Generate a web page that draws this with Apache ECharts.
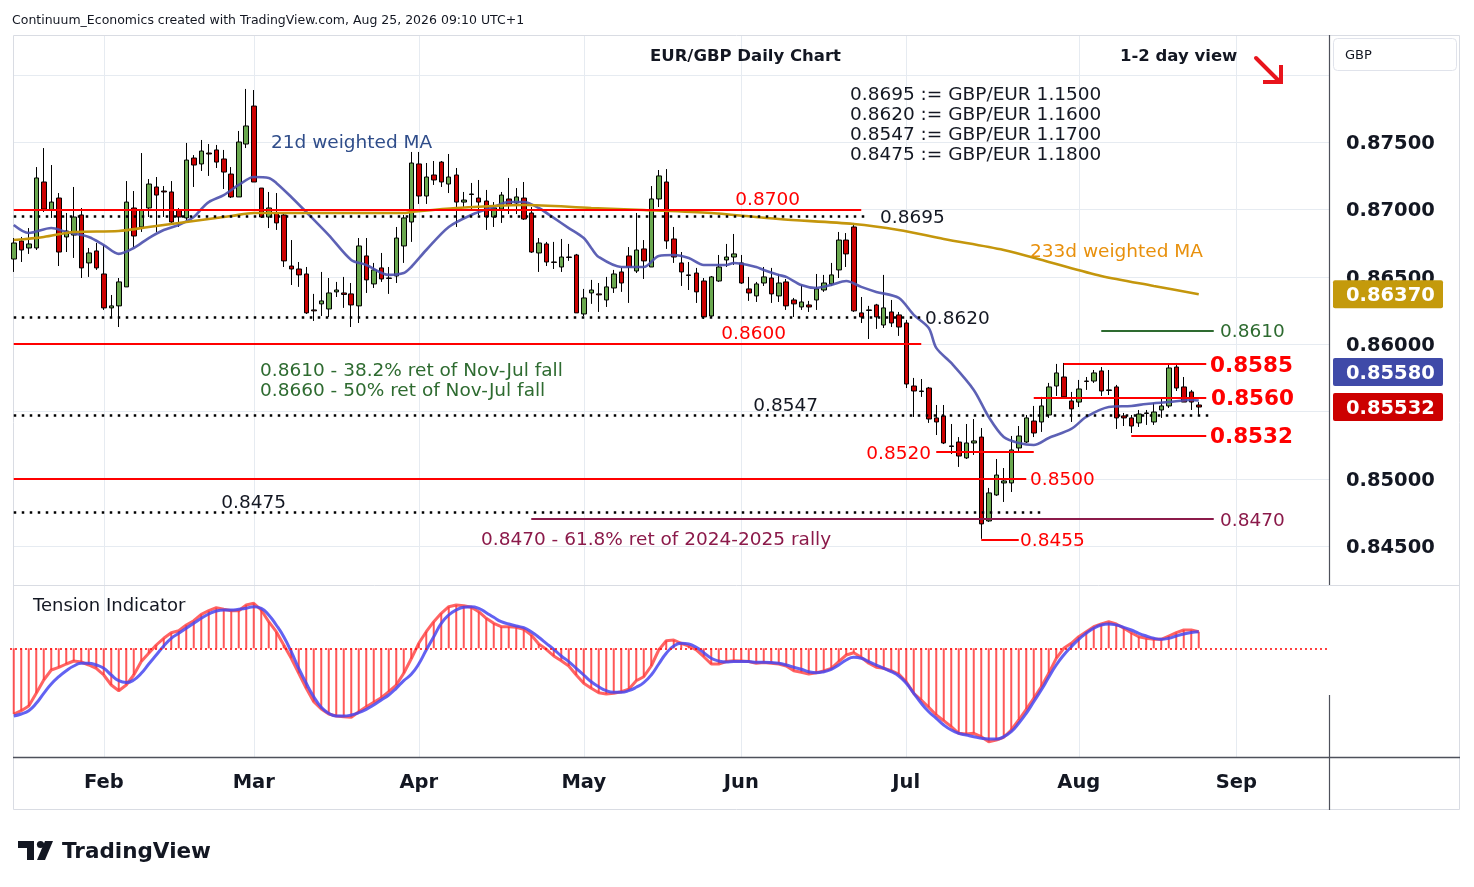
<!DOCTYPE html>
<html><head><meta charset="utf-8">
<script src="https://cdn.jsdelivr.net/npm/echarts@6/dist/echarts.min.js"></script>
<style>html,body{margin:0;padding:0;background:#fff}#c{width:1474px;height:887px}</style>
</head><body><div id="c"></div>
<script>
// ---------- DATA ----------
const openP = [0.86631,0.86765,0.86713,0.86713,0.87203,0.86995,0.87084,0.86795,0.86809,0.86958,
0.86602,0.86691,0.86520,0.86268,0.86283,0.86424,0.87010,0.86869,0.87010,0.87166,
0.87136,0.87129,0.86995,0.86936,0.87381,0.87337,0.87418,0.87441,0.87374,0.87262,
0.87092,0.87485,0.87767,0.87158,0.86943,0.86973,0.86958,0.86579,0.86557,0.86520,
0.86253,0.86298,0.86260,0.86387,0.86379,0.86372,0.86283,0.86654,0.86446,0.86565,
0.86490,0.86505,0.86728,0.86906,0.87337,0.87099,0.87255,0.87351,0.87188,0.87255,
0.87054,0.87114,0.87084,0.87062,0.86943,0.87002,0.87077,0.87047,0.87084,0.86973,
0.86676,0.86743,0.86609,0.86572,0.86646,0.86661,0.86223,0.86379,0.86372,0.86327,
0.86416,0.86535,0.86654,0.86542,0.86706,0.86572,0.87077,0.87203,0.86780,0.86602,
0.86513,0.86527,0.86468,0.86208,0.86468,0.86624,0.86646,0.86602,0.86409,0.86357,
0.86453,0.86490,0.86357,0.86461,0.86327,0.86275,0.86290,0.86327,0.86401,0.86446,
0.86550,0.86772,0.86869,0.86231,0.86253,0.86290,0.86141,0.86238,0.86216,0.86156,
0.85688,0.85651,0.85673,0.85451,0.85466,0.85243,0.85272,0.85154,0.85265,0.85309,
0.84686,0.84879,0.84968,0.84968,0.85228,0.85272,0.85428,0.85421,0.85473,0.85688,
0.85755,0.85577,0.85569,0.85725,0.85725,0.85800,0.85659,0.85681,0.85466,0.85451,
0.85414,0.85488,0.85421,0.85510,0.85540,0.85829,0.85681,0.85644,0.85547];
const closeP = [0.86750,0.86698,0.86743,0.87233,0.87002,0.87054,0.86683,0.86839,0.86943,0.86565,
0.86676,0.86565,0.86268,0.86283,0.86461,0.87054,0.86802,0.86995,0.87188,0.87106,
0.87129,0.86906,0.86943,0.87366,0.87329,0.87433,0.87411,0.87351,0.87277,0.87092,
0.87500,0.87619,0.87203,0.86943,0.87010,0.86899,0.86617,0.86557,0.86513,0.86231,
0.86246,0.86320,0.86379,0.86401,0.86368,0.86290,0.86728,0.86476,0.86550,0.86483,
0.86487,0.86787,0.86936,0.87344,0.87099,0.87240,0.87218,0.87203,0.87240,0.87054,
0.87069,0.87110,0.87054,0.86943,0.87010,0.87106,0.87032,0.87092,0.86928,0.86683,
0.86750,0.86609,0.86606,0.86646,0.86643,0.86231,0.86342,0.86401,0.86365,0.86424,
0.86520,0.86453,0.86572,0.86698,0.86617,0.87077,0.87248,0.86765,0.86646,0.86535,
0.86509,0.86387,0.86201,0.86498,0.86572,0.86646,0.86669,0.86453,0.86379,0.86446,
0.86498,0.86372,0.86453,0.86283,0.86298,0.86312,0.86275,0.86409,0.86453,0.86513,
0.86772,0.86669,0.86246,0.86201,0.86249,0.86201,0.86268,0.86156,0.86126,0.85703,
0.85651,0.85647,0.85443,0.85421,0.85265,0.85239,0.85168,0.85265,0.85280,0.84664,
0.84894,0.85027,0.84983,0.85213,0.85317,0.85451,0.85339,0.85540,0.85681,0.85785,
0.85607,0.85518,0.85666,0.85722,0.85785,0.85651,0.85655,0.85451,0.85451,0.85391,
0.85480,0.85484,0.85495,0.85540,0.85822,0.85673,0.85569,0.85569,0.85532];
const highP = [0.86787,0.86795,0.86861,0.87314,0.87455,0.87329,0.87121,0.86973,0.87166,0.87010,
0.86713,0.86750,0.86735,0.86364,0.86490,0.87210,0.87136,0.87418,0.87225,0.87240,
0.87173,0.87210,0.87010,0.87493,0.87403,0.87515,0.87485,0.87478,0.87441,0.87314,
0.87582,0.87894,0.87886,0.87158,0.87129,0.87121,0.86973,0.86772,0.86609,0.86572,
0.86372,0.86535,0.86490,0.86461,0.86498,0.86453,0.86787,0.86787,0.86602,0.86676,
0.86572,0.86869,0.86958,0.87426,0.87426,0.87344,0.87359,0.87359,0.87411,0.87307,
0.87129,0.87196,0.87218,0.87144,0.87054,0.87129,0.87233,0.87158,0.87203,0.87017,
0.86787,0.86758,0.86758,0.86780,0.86743,0.86669,0.86409,0.86476,0.86453,0.86498,
0.86550,0.86565,0.86720,0.86973,0.86772,0.87173,0.87292,0.87299,0.86869,0.86683,
0.86609,0.86565,0.86490,0.86505,0.86661,0.86743,0.86817,0.86661,0.86498,0.86461,
0.86572,0.86565,0.86520,0.86483,0.86342,0.86438,0.86320,0.86520,0.86513,0.86602,
0.86832,0.86824,0.86899,0.86349,0.86283,0.86298,0.86513,0.86327,0.86238,0.86179,
0.85748,0.85740,0.85681,0.85547,0.85547,0.85406,0.85309,0.85406,0.85443,0.85376,
0.84931,0.85146,0.85079,0.85317,0.85391,0.85473,0.85540,0.85607,0.85711,0.85852,
0.85859,0.85644,0.85733,0.85755,0.85807,0.85829,0.85807,0.85696,0.85488,0.85473,
0.85510,0.85510,0.85562,0.85599,0.85852,0.85859,0.85755,0.85659,0.85569];
const lowP = [0.86535,0.86609,0.86669,0.86698,0.86980,0.86936,0.86579,0.86683,0.86639,0.86490,
0.86498,0.86550,0.86253,0.86201,0.86126,0.86424,0.86720,0.86832,0.86943,0.86832,
0.86943,0.86884,0.86869,0.86921,0.87166,0.87285,0.87248,0.87307,0.87151,0.87084,
0.87092,0.87455,0.87203,0.86936,0.86861,0.86847,0.86572,0.86438,0.86424,0.86223,
0.86171,0.86208,0.86201,0.86349,0.86268,0.86126,0.86156,0.86379,0.86416,0.86461,
0.86372,0.86453,0.86602,0.86758,0.87040,0.87040,0.87181,0.87166,0.87121,0.86869,
0.87017,0.86995,0.86958,0.86847,0.86869,0.86899,0.86965,0.86965,0.86921,0.86676,
0.86535,0.86579,0.86557,0.86535,0.86617,0.86231,0.86208,0.86298,0.86238,0.86275,
0.86379,0.86387,0.86305,0.86527,0.86483,0.86572,0.87017,0.86706,0.86602,0.86431,
0.86401,0.86305,0.86186,0.86201,0.86461,0.86572,0.86587,0.86446,0.86320,0.86312,
0.86431,0.86305,0.86312,0.86253,0.86201,0.86253,0.86238,0.86253,0.86387,0.86431,
0.86490,0.86572,0.86238,0.86156,0.86037,0.86112,0.86119,0.86126,0.86060,0.85673,
0.85458,0.85607,0.85414,0.85324,0.85257,0.85183,0.85087,0.85146,0.85176,0.84553,
0.84679,0.84872,0.84827,0.84901,0.85198,0.85265,0.85309,0.85347,0.85451,0.85614,
0.85599,0.85421,0.85532,0.85659,0.85711,0.85614,0.85621,0.85369,0.85391,0.85339,
0.85384,0.85399,0.85399,0.85451,0.85525,0.85651,0.85569,0.85510,0.85473];

// 21d and 233d weighted MAs (candle index, value)
const ma21Idx = [0,2,5,7,10,12,14,16,18,20,22,24,25,26,28,30,32,34,35,37,39,42,45,47,50,52,53,55,58,61,64,66,68,70,72,74,76,77,78,81,84,86,88,90,92,95,96,99,100,102,103,105,107,109,111,113,115,118,120,122,123,125,128,130,132,134,136,138,141,143,146,149,151,154,157,158];
const ma21Val = [0.86884,0.86824,0.86861,0.86832,0.86795,0.86735,0.86669,0.86713,0.86787,0.86847,0.86884,0.86943,0.87002,0.87054,0.87106,0.87181,0.87240,0.87233,0.87196,0.87092,0.86980,0.86809,0.86624,0.86587,0.86513,0.86527,0.86572,0.86698,0.86869,0.86958,0.87017,0.87054,0.87054,0.87010,0.86936,0.86861,0.86787,0.86713,0.86646,0.86572,0.86572,0.86654,0.86661,0.86639,0.86587,0.86587,0.86602,0.86572,0.86550,0.86513,0.86498,0.86438,0.86416,0.86438,0.86468,0.86424,0.86387,0.86342,0.86216,0.86119,0.85971,0.85859,0.85659,0.85458,0.85309,0.85265,0.85250,0.85302,0.85369,0.85458,0.85532,0.85540,0.85555,0.85569,0.85584,0.85580];
const ma233Idx = [0,4,8,14,18,22,25,29,32,38,52,53,59,68,77,84,93,102,112,118,124,132,138,145,152,158];
const ma233Val = [0.86772,0.86795,0.86832,0.86839,0.86869,0.86899,0.86921,0.86950,0.86973,0.86973,0.86973,0.86980,0.87010,0.87032,0.87010,0.86995,0.86973,0.86928,0.86891,0.86847,0.86780,0.86698,0.86609,0.86505,0.86431,0.86370];

// Tension indicator (arbitrary units)
const tensFast = [-65.7,-62.4,-57.7,-45,-31.7,-21.7,-19,-15.7,-12.7,-13.7,
-16.7,-20,-26.7,-36.7,-42.4,-36.7,-26.7,-13.3,-5,3.3,
10,15.6,17.6,23.3,27.6,34,37.6,40.6,39,37.6,
37.6,43.3,45,38.3,26.6,16.6,3.3,-10,-25,-40,
-53.4,-60.7,-65.7,-67.7,-68.4,-69,-63.4,-58.4,-54,-49.4,
-43.4,-36.7,-25,-10.5,5,16.6,26.6,35,41.6,43.3,
42.6,41,36.6,30,25,21.6,21.6,21,19,13.3,
4.3,-1,-7.7,-12.4,-17.7,-26.7,-35,-40,-44.4,-45.7,
-45,-43.4,-41,-32.4,-28.4,-17.7,-1.7,7.6,8.3,5,
2.3,-1.7,-8.4,-15.7,-15.7,-13.3,-12.4,-12.7,-13.3,-15,
-14.3,-15,-15.7,-17.7,-22.4,-24,-25.7,-24.4,-22.7,-20,
-13.3,-6.7,-4.4,-9,-15,-19,-20,-22.4,-25.7,-33.4,
-45,-51.7,-59,-66.7,-72.4,-78.4,-85,-85.7,-85,-88.4,
-93.4,-91.7,-89,-81.7,-71.7,-61,-50,-38.4,-25,-10,
0,5,11.6,16.6,21.6,24.3,26.6,24.3,20,15.6,
11.6,10,9,9,12.3,15.6,18.3,18.3,16.6];
const tensSlow = [-67.7,-65.7,-62.4,-55,-45,-35.7,-28.4,-22.4,-17.7,-15,
-15,-16.7,-20,-26.7,-32.4,-34.3,-31.7,-25,-15.7,-6.7,
2.3,10,15,20,25,30,34.3,37.3,38.3,38.3,
39,40,41.6,40,33.3,23.3,11.6,-3.4,-20,-35,
-48.4,-59,-65,-67.7,-67.7,-66.7,-64.4,-61,-56.7,-51.7,
-46.7,-40,-32.4,-26,-15.7,-1.7,11.6,25,33.3,38.3,
41,41.6,40,35.6,31,26.6,24.3,22.3,20.6,16.6,
11,5,-1,-7.7,-13.3,-20,-26.7,-33.4,-38.4,-42.4,
-44,-44,-42.4,-39,-34.3,-26.7,-15.7,-5,2.3,5,
4.3,1,-4.4,-10,-12.7,-13.7,-13.3,-13.3,-13.3,-14,
-14,-14.3,-15,-16.7,-19,-21,-23.4,-24.4,-23.4,-21,
-16.7,-11.7,-9,-10,-13.3,-16.7,-20,-23.4,-27.7,-35,
-45,-55,-63.4,-70,-76.7,-81.7,-85,-86.7,-88.4,-90,
-90.7,-90.7,-88.4,-83.4,-75,-65,-53.4,-41.7,-29,-16.7,
-6.7,1.6,9,15,20,23.3,24.3,23.3,21,18.3,
15,12.3,10,9,10,12.3,14.3,15.9,16.6];

// Annotated price levels
const levelPrices = [0.8700, 0.8695, 0.8620, 0.8600, 0.8610, 0.8585, 0.8560, 0.8547, 0.8532, 0.8520, 0.8500, 0.8475, 0.8470, 0.8455];
const levelText = ['0.8700','0.8695','0.8620','0.8600','0.8610','0.8585','0.8560','0.8547','0.8532','0.8520','0.8500','0.8475','0.8470','0.8455'];
const fibText = ['0.8610 - 38.2% ret of Nov-Jul fall', '0.8660 - 50% ret of Nov-Jul fall', '0.8470 - 61.8% ret of 2024-2025 rally'];
const convText = ['0.8695 := GBP/EUR 1.1500', '0.8620 := GBP/EUR 1.1600', '0.8547 := GBP/EUR 1.1700', '0.8475 := GBP/EUR 1.1800'];
const axisTicks = [0.880, 0.875, 0.870, 0.865, 0.860, 0.855, 0.850, 0.845];
const axisShown = [0.875, 0.870, 0.865, 0.860, 0.850, 0.845];
const lastClose = 0.85532, lastMa21 = 0.85580, lastMa233 = 0.86370;
const monthNames = ['Jan','Feb','Mar','Apr','May','Jun','Jul','Aug','Sep','Oct','Nov','Dec'];

// ---------- CATEGORIES (weekdays) ----------
const N_CAT = 176;
const cats = [];
{ const d = new Date(Date.UTC(2026, 0, 15));
  while (cats.length < N_CAT) { const wd = d.getUTCDay(); if (wd !== 0 && wd !== 6) cats.push(d.toISOString().slice(0, 10)); d.setUTCDate(d.getUTCDate() + 1); } }
const monthStart = new Set();
for (let i = 1; i < cats.length; i++) if (cats[i].slice(5, 7) !== cats[i - 1].slice(5, 7)) monthStart.add(i);

// ---------- STYLE ----------
const FONT = '"DejaVu Sans", Verdana, sans-serif';
const RED = '#ff0000', DOT = [2.5, 5.5];
const levelStyle = [
  {i0:0, i1:113, color:RED, type:'solid', w:2},
  {i0:0, i1:114, color:'#000', type:DOT, w:2.5},
  {i0:0, i1:121, color:'#000', type:DOT, w:2.5},
  {i0:0, i1:121, color:RED, type:'solid', w:2},
  {i0:145, i1:160, color:'#2e6b30', type:'solid', w:2},
  {i0:140, i1:159, color:RED, type:'solid', w:2},
  {i0:136, i1:159, color:RED, type:'solid', w:2},
  {i0:0, i1:160, color:'#000', type:DOT, w:2.5},
  {i0:149, i1:159, color:RED, type:'solid', w:2},
  {i0:123, i1:136, color:RED, type:'solid', w:2},
  {i0:0, i1:135, color:RED, type:'solid', w:2},
  {i0:0, i1:137, color:'#000', type:DOT, w:2.5},
  {i0:69, i1:160, color:'#8b1a4a', type:'solid', w:2},
  {i0:129, i1:134, color:RED, type:'solid', w:2}
];
const levelLab = [
  {x:800, a:'right', v:'above', c:RED, s:18.5},
  {x:880, a:'left', v:'mid', c:'#131722', s:18.5},
  {x:925, a:'left', v:'mid', c:'#131722', s:18.5},
  {x:786, a:'right', v:'above', c:RED, s:18.5},
  {x:1220, a:'left', v:'mid', c:'#2e6b30', s:18.5},
  {x:1210, a:'left', v:'mid', c:RED, s:21.5, b:true},
  {x:1211, a:'left', v:'mid', c:RED, s:21.5, b:true},
  {x:818, a:'right', v:'above', c:'#131722', s:18.5},
  {x:1210, a:'left', v:'mid', c:RED, s:21.5, b:true},
  {x:931, a:'right', v:'mid', c:RED, s:18.5},
  {x:1030, a:'left', v:'mid', c:RED, s:18.5},
  {x:286, a:'right', v:'above', c:'#131722', s:18.5},
  {x:1220, a:'left', v:'mid', c:'#8b1a4a', s:18.5},
  {x:1020, a:'left', v:'mid', c:RED, s:18.5}
];

const Y_MIN = 0.842103, Y_MAX = 0.882946;

const option = {
  animation: false,
  backgroundColor: '#ffffff',
  grid: [
    {left: 10, top: 35, width: 1320, height: 550},
    {left: 10, top: 585, width: 1320, height: 172}
  ],
  xAxis: [
    {type:'category', gridIndex:0, data:cats, boundaryGap:true,
     axisLine:{show:false, onZero:false}, axisTick:{show:false}, axisLabel:{show:false}, splitLine:{show:false}},
    {type:'category', gridIndex:1, data:cats, boundaryGap:true,
     axisLine:{show:false, onZero:false}, axisTick:{show:false}, splitLine:{show:false},
     axisLabel:{show:true, interval:(i) => monthStart.has(i), formatter:(v) => monthNames[parseInt(v.slice(5,7), 10) - 1],
       margin:16, fontSize:19.5, fontWeight:'bold', color:'#131722', fontFamily:FONT}}
  ],
  yAxis: [
    {type:'value', gridIndex:0, min:Y_MIN, max:Y_MAX, position:'right',
     axisLine:{show:false}, axisTick:{show:false}, axisLabel:{show:false}, splitLine:{show:false}},
    {type:'value', gridIndex:1, min:-108.7, max:63.3, position:'right',
     axisLine:{show:false}, axisTick:{show:false}, axisLabel:{show:false}, splitLine:{show:false}}
  ],
  series: [
    {type:'candlestick', xAxisIndex:0, yAxisIndex:0, z:3, barWidth:5,
     data: openP.map((o, i) => [o, closeP[i], lowP[i], highP[i]]),
     itemStyle:{color:'#6aa84f', color0:'#cc0000', borderColor:'#000000', borderColor0:'#000000', borderWidth:1}},
    {type:'line', xAxisIndex:0, yAxisIndex:0, z:4, smooth:0.3, showSymbol:false, silent:true,
     data: ma21Idx.map((i, k) => [cats[i], ma21Val[k]]),
     lineStyle:{color:'#4b50ad', width:2.6, opacity:0.9}},
    {type:'line', xAxisIndex:0, yAxisIndex:0, z:4, smooth:0.3, showSymbol:false, silent:true,
     data: ma233Idx.map((i, k) => [cats[i], ma233Val[k]]),
     lineStyle:{color:'#c4960c', width:2.6},
     markLine:{silent:true, symbol:['none','none'], label:{show:false}, animation:false,
       data: levelPrices.map((p, k) => [
         {coord:[cats[levelStyle[k].i0], p], lineStyle:{color:levelStyle[k].color, type:levelStyle[k].type, width:levelStyle[k].w}},
         {coord:[cats[levelStyle[k].i1], p]}])}},
    {type:'bar', xAxisIndex:1, yAxisIndex:1, z:2, barWidth:2, silent:true,
     data: tensFast, itemStyle:{color:'rgba(255,45,45,0.8)'},
     markLine:{silent:true, symbol:['none','none'], label:{show:false}, animation:false,
       data:[{yAxis:0, lineStyle:{color:'#ff0000', type:[2,3], width:1.5}}]}},
    {type:'line', xAxisIndex:1, yAxisIndex:1, z:3, showSymbol:false, silent:true,
     data: tensFast, lineStyle:{color:'rgba(255,60,60,0.8)', width:3}},
    {type:'line', xAxisIndex:1, yAxisIndex:1, z:4, smooth:true, showSymbol:false, silent:true,
     data: tensSlow, lineStyle:{color:'rgba(70,70,240,0.85)', width:3}}
  ]
};

const chart = echarts.init(document.getElementById('c'), null, {renderer:'canvas'});
chart.setOption(option);

// ---------- decorations placed with the chart's own scales ----------
const P = (i, v) => chart.convertToPixel({gridIndex:0}, [i, v]);
const yOf = v => P(0, v)[1];
const xOf = i => P(i, 0.86)[0];
const TY = 2; // vertical text nudge
function T(x, y, s, o) {
  o = o || {};
  const al = o.a || 'left', va = o.va || 'middle';
  return {type:'text', x:x, y:y + TY, z:o.z || 60, silent:true,
    style:{text:s, fill:o.c || '#131722', fontSize:o.s || 18.5, fontWeight:o.b ? 'bold' : 'normal', fontFamily:FONT,
      textAlign:al, textVerticalAlign:va, align:al, verticalAlign:va}};
}
function L(x1, y1, x2, y2, c, w, z) {
  return {type:'line', silent:true, z:z == null ? 0 : z, shape:{x1:x1, y1:y1, x2:x2, y2:y2}, style:{stroke:c, lineWidth:w || 1}};
}
const g = [];
const GRID = '#e6ebf1';
axisTicks.forEach(p => { const y = Math.round(yOf(p)) + 0.5; g.push(L(13, y, 1329, y, GRID, 1, 0)); });
monthStart.forEach(i => { const x = Math.round(xOf(i)) + 0.5; if (x < 1329) { g.push(L(x, 35, x, 585, GRID, 1, 0)); g.push(L(x, 586, x, 757, GRID, 1, 0)); } });
g.push({type:'rect', silent:true, z:1, shape:{x:13.5, y:35.5, width:1446, height:774}, style:{fill:'none', stroke:'#d9dce3', lineWidth:1}});
g.push(L(13, 585.5, 1460, 585.5, '#d9dce3', 1, 1));
g.push(L(13, 757.5, 1460, 757.5, '#4e515b', 1.5, 1));
g.push(L(1329.5, 35, 1329.5, 585, '#4e515b', 1.2, 1));
g.push(L(1329.5, 695, 1329.5, 810, '#4e515b', 1.2, 1));
axisShown.forEach(p => g.push(T(1346, yOf(p), p.toFixed(5), {s:19.5, b:true, z:40})));
function box(y, fill, s) {
  g.push({type:'rect', silent:true, z:50, shape:{x:1333, y:y - 14, width:110, height:28, r:2}, style:{fill:fill}});
  g.push(T(1346, y, s, {s:19.5, b:true, c:'#ffffff', z:51}));
}
const yClose = yOf(lastClose);
box(yOf(lastMa233), '#c49a0c', lastMa233.toFixed(5));
box(yClose - 35, '#3f4aa8', lastMa21.toFixed(5));
box(yClose, '#cc0000', lastClose.toFixed(5));
g.push({type:'rect', silent:true, z:5, shape:{x:1333.5, y:38.5, width:123, height:32, r:4}, style:{fill:'#fff', stroke:'#e0e3eb', lineWidth:1}});
g.push(T(1345, 54, 'GBP', {s:13}));
g.push(T(12, 19, 'Continuum_Economics created with TradingView.com, Aug 25, 2026 09:10 UTC+1', {s:12.5}));
g.push(T(745.5, 55, 'EUR/GBP Daily Chart', {s:16.5, b:true, a:'center'}));
g.push(T(1120, 55, '1-2 day view', {s:16.5, b:true}));
convText.forEach((s, k) => g.push(T(850, 93 + 20 * k, s, {s:18.5})));
g.push(T(271, 141, '21d weighted MA', {s:18.5, c:'#2f4d8a'}));
g.push(T(1030, 250, '233d weighted MA', {s:18.5, c:'#e8900c'}));
g.push(T(260, 369, fibText[0], {s:18.5, c:'#2e6b30'}));
g.push(T(260, 389, fibText[1], {s:18.5, c:'#2e6b30'}));
g.push(T(481, 538, fibText[2], {s:18.5, c:'#8b1a4a'}));
g.push(T(33, 604, 'Tension Indicator', {s:18}));
levelPrices.forEach((p, k) => {
  const lb = levelLab[k]; const y = yOf(p);
  g.push(T(lb.x, lb.v === 'above' ? y - 2 : y, levelText[k], {s:lb.s, b:lb.b, c:lb.c, a:lb.a, va:lb.v === 'above' ? 'bottom' : 'middle'}));
});
g.push({type:'polyline', silent:true, z:60, shape:{points:[[1256,58],[1278,80]]}, style:{stroke:'#e8141c', lineWidth:4, lineCap:'round'}});
g.push({type:'polyline', silent:true, z:60, shape:{points:[[1263,82],[1281,82],[1281,65]]}, style:{stroke:'#e8141c', lineWidth:4, fill:null, lineJoin:'miter'}});
g.push({type:'polygon', silent:true, z:60, shape:{points:[[18,841],[34,841],[34,860],[27,860],[27,848],[18,848]]}, style:{fill:'#131722'}});
g.push({type:'circle', silent:true, z:60, shape:{cx:40.5, cy:844.5, r:3.6}, style:{fill:'#131722'}});
g.push({type:'polygon', silent:true, z:60, shape:{points:[[45,841],[53,841],[45,860],[37,860]]}, style:{fill:'#131722'}});
g.push(T(62, 850, 'TradingView', {s:21.5, b:true}));

chart.setOption({graphic:{elements:g}});
</script></body></html>
